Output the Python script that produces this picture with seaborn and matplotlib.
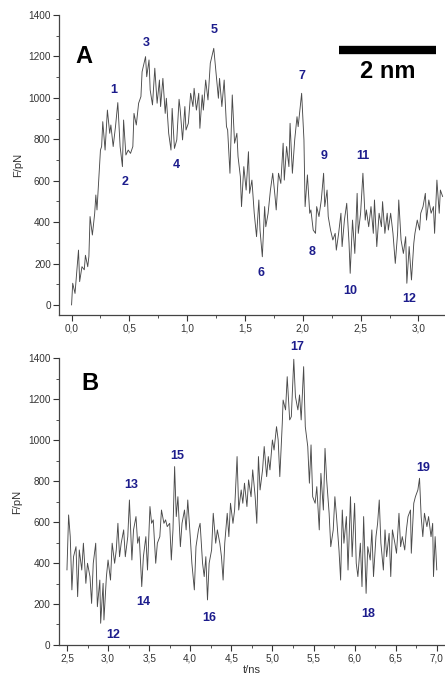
import numpy as np
import pandas as pd
import seaborn as sns
import matplotlib.pyplot as plt
from matplotlib.ticker import MultipleLocator

# Panel A: force trace 0 - 3.2 ns
t_a = [0.00, 0.01, 0.03, 0.06, 0.07, 0.09, 0.11, 0.12, 0.14, 0.15, 0.16, 0.18, 0.20, 0.21, 0.22,
       0.25, 0.26, 0.27, 0.29, 0.31, 0.33, 0.34, 0.36, 0.38, 0.40, 0.42, 0.44, 0.45, 0.47, 0.49,
       0.51, 0.53, 0.54, 0.56, 0.58, 0.60, 0.61, 0.64, 0.65, 0.67, 0.68, 0.70, 0.72, 0.74, 0.76,
       0.77, 0.79, 0.81, 0.82, 0.84, 0.86, 0.87, 0.89, 0.91, 0.93, 0.94, 0.96, 0.98, 0.99, 1.01,
       1.03, 1.05, 1.06, 1.08, 1.10, 1.11, 1.13, 1.14, 1.16, 1.18, 1.20, 1.23, 1.25, 1.27, 1.28,
       1.30, 1.32, 1.34, 1.35, 1.37, 1.39, 1.41, 1.43, 1.44, 1.46, 1.47, 1.49, 1.51, 1.53, 1.54,
       1.56, 1.58, 1.60, 1.62, 1.63, 1.65, 1.67, 1.68, 1.70, 1.72, 1.74, 1.76, 1.77, 1.79, 1.81,
       1.83, 1.84, 1.86, 1.88, 1.89, 1.91, 1.93, 1.95, 1.96, 1.99, 2.01, 2.02, 2.04, 2.06, 2.07,
       2.09, 2.11, 2.12, 2.14, 2.16, 2.18, 2.19, 2.21, 2.22, 2.24, 2.26, 2.28, 2.29, 2.31, 2.33,
       2.34, 2.36, 2.38, 2.40, 2.41, 2.43, 2.45, 2.47, 2.48, 2.50, 2.52, 2.54, 2.55, 2.57, 2.59,
       2.61, 2.62, 2.64, 2.66, 2.68, 2.69, 2.71, 2.73, 2.74, 2.76, 2.78, 2.80, 2.82, 2.83, 2.85,
       2.87, 2.89, 2.90, 2.92, 2.94, 2.96, 2.97, 2.99, 3.01, 3.02, 3.04, 3.06, 3.07, 3.09, 3.11,
       3.13, 3.14, 3.16, 3.18, 3.19, 3.21]
f_a = [0, 105, 56, 265, 113, 185, 170, 240, 185, 235, 427, 338, 442, 531, 459,
       748, 765, 885, 748, 941, 829, 869, 765, 861, 977, 765, 668, 893, 724, 748,
       732, 765, 925, 869, 974, 1006, 1126, 1199, 1102, 1183, 1038, 966, 1143, 974, 1086,
       958, 1094, 925, 998, 829, 748, 949, 756, 797, 993, 941, 797, 958, 845, 877,
       1022, 958, 1046, 941, 1022, 853, 1014, 941, 1086, 990, 1167, 1239, 1118, 998, 1094,
       958, 1086, 861, 845, 636, 1014, 781, 829, 716, 620, 475, 668, 555, 740, 539,
       603, 443, 330, 507, 362, 233, 475, 378, 443, 555, 636, 523, 459, 636, 587,
       781, 603, 765, 668, 877, 636, 797, 909, 861, 1022, 797, 475, 628, 443, 459,
       362, 346, 475, 427, 507, 636, 475, 555, 427, 362, 314, 346, 265, 346, 443,
       282, 410, 491, 298, 153, 410, 249, 539, 346, 443, 636, 410, 459, 378, 475,
       346, 507, 282, 443, 378, 499, 346, 443, 362, 443, 346, 201, 346, 507, 314,
       249, 330, 105, 282, 121, 298, 346, 410, 362, 443, 475, 539, 410, 507, 443,
       475, 346, 603, 443, 555, 523]

# Panel B: force trace 2.5 - 7.0 ns
t_b = [2.50, 2.52, 2.54, 2.56, 2.58, 2.61, 2.63, 2.65, 2.68, 2.70, 2.73, 2.75, 2.78, 2.80, 2.82,
       2.85, 2.87, 2.90, 2.91, 2.94, 2.95, 2.98, 3.00, 3.03, 3.05, 3.08, 3.10, 3.12, 3.14, 3.16,
       3.19, 3.21, 3.24, 3.26, 3.29, 3.31, 3.34, 3.36, 3.38, 3.41, 3.43, 3.46, 3.48, 3.51, 3.53,
       3.55, 3.58, 3.60, 3.63, 3.65, 3.68, 3.70, 3.72, 3.75, 3.77, 3.79, 3.81, 3.83, 3.85, 3.88,
       3.90, 3.93, 3.95, 3.97, 4.00, 4.02, 4.05, 4.07, 4.10, 4.12, 4.15, 4.17, 4.19, 4.21, 4.23,
       4.26, 4.28, 4.31, 4.33, 4.36, 4.38, 4.40, 4.42, 4.45, 4.47, 4.49, 4.52, 4.54, 4.57, 4.59,
       4.62, 4.64, 4.66, 4.69, 4.71, 4.74, 4.76, 4.79, 4.81, 4.83, 4.85, 4.88, 4.90, 4.93, 4.95,
       4.97, 5.00, 5.02, 5.05, 5.07, 5.09, 5.12, 5.13, 5.16, 5.18, 5.21, 5.23, 5.26, 5.28, 5.31,
       5.33, 5.35, 5.38, 5.40, 5.43, 5.45, 5.47, 5.49, 5.52, 5.54, 5.57, 5.59, 5.62, 5.64, 5.66,
       5.69, 5.71, 5.74, 5.76, 5.78, 5.81, 5.83, 5.85, 5.87, 5.90, 5.92, 5.95, 5.97, 6.00, 6.02,
       6.04, 6.07, 6.09, 6.11, 6.14, 6.16, 6.19, 6.21, 6.23, 6.26, 6.28, 6.30, 6.32, 6.35, 6.37,
       6.39, 6.42, 6.44, 6.46, 6.49, 6.51, 6.54, 6.56, 6.58, 6.61, 6.63, 6.65, 6.68, 6.69, 6.72,
       6.74, 6.77, 6.79, 6.81, 6.83, 6.85, 6.88, 6.90, 6.93, 6.95, 6.96, 6.98, 7.00]
f_b = [366, 635, 529, 269, 431, 480, 236, 464, 366, 497, 301, 399, 334, 203, 399,
       497, 187, 317, 106, 301, 122, 334, 415, 317, 497, 399, 464, 594, 431, 497,
       562, 431, 529, 708, 415, 562, 627, 497, 529, 285, 431, 529, 366, 676, 594,
       611, 399, 497, 529, 659, 594, 611, 578, 594, 415, 562, 871, 627, 724, 480,
       594, 659, 562, 708, 529, 399, 269, 480, 562, 594, 399, 334, 431, 220, 399,
       464, 643, 497, 562, 497, 431, 317, 497, 643, 529, 692, 594, 659, 920, 659,
       757, 692, 790, 676, 806, 724, 855, 724, 594, 920, 757, 855, 969, 822, 920,
       855, 1001, 952, 1066, 1001, 822, 1083, 1196, 1148, 1310, 1099, 1115, 1395, 1213, 1148,
       1221, 1099, 1359, 1066, 969, 790, 977, 724, 692, 773, 562, 838, 659, 960, 806,
       643, 480, 562, 724, 627, 464, 317, 659, 497, 627, 366, 724, 431, 692, 399,
       334, 497, 285, 627, 252, 480, 415, 562, 334, 529, 594, 708, 497, 366, 562,
       431, 545, 334, 562, 497, 448, 643, 480, 529, 464, 562, 627, 659, 448, 692,
       724, 757, 814, 627, 529, 643, 578, 627, 529, 594, 334, 529, 366]

# event labels
labels_a = ["1", "2", "3", "4", "5", "6", "7", "8", "9", "10", "11", "12"]
lab_x_a = [0.363, 0.467, 0.649, 0.903, 1.231, 1.635, 1.993, 2.082, 2.18, 2.413, 2.517, 2.921]
lab_y_a = [1038, 595, 1266, 676, 1328, 153, 1106, 254, 721, 69, 719, 29]
labels_b = ["12", "13", "14", "15", "16", "17", "18", "19"]
lab_x_b = [3.068, 3.278, 3.432, 3.838, 4.235, 5.297, 6.168, 6.829]
lab_y_b = [49, 781, 212, 925, 130, 1457, 151, 863]

xticks_a = [0.0, 0.5, 1.0, 1.5, 2.0, 2.5, 3.0]
xticks_b = [2.5, 3.0, 3.5, 4.0, 4.5, 5.0, 5.5, 6.0, 6.5, 7.0]
yticks = [0, 200, 400, 600, 800, 1000, 1200, 1400]

sns.set_style("ticks")
plt.rcParams['font.family'] = ['Liberation Sans', 'DejaVu Sans']

fig = plt.figure(figsize=(4.45, 6.81), dpi=100)
ax1 = fig.add_axes([0.133, 0.5375, 0.867, 0.4405])
ax2 = fig.add_axes([0.132, 0.0529, 0.868, 0.421])

line_col = "#4a4a4a"
lab_col = "#1c1c8c"
tick_col = "#333333"

df_a = pd.DataFrame({"t": t_a, "F": f_a})
df_b = pd.DataFrame({"t": t_b, "F": f_b})
sns.lineplot(data=df_a, x="t", y="F", ax=ax1, color=line_col, lw=0.65,
             estimator=None, sort=False)
sns.lineplot(data=df_b, x="t", y="F", ax=ax2, color=line_col, lw=0.65,
             estimator=None, sort=False)

ax1.set_xlim(-0.107, 3.23)
ax1.set_ylim(-48, 1400)
ax2.set_xlim(2.40, 7.10)
ax2.set_ylim(0, 1400)

for ax, xt in [(ax1, xticks_a), (ax2, xticks_b)]:
    sns.despine(ax=ax)
    ax.set_xticks(xt)
    ax.set_xticklabels([f"{v:.1f}".replace(".", ",") for v in xt])
    ax.set_yticks(yticks)
    ax.set_yticklabels([str(v) for v in yticks])
    ax.xaxis.set_minor_locator(MultipleLocator(0.25))
    ax.yaxis.set_minor_locator(MultipleLocator(100))
    ax.tick_params(which="major", length=4, width=0.8, colors=tick_col,
                   labelsize=7.2, pad=2)
    ax.tick_params(which="minor", length=2, width=0.6, colors=tick_col)
    for s in ["left", "bottom"]:
        ax.spines[s].set_color("#444444")
        ax.spines[s].set_linewidth(0.9)
    ax.set_ylabel("F/pN", fontsize=8, color=tick_col, labelpad=4)
    ax.set_xlabel("")

ax2.set_xlabel("t/ns", fontsize=8, color=tick_col, labelpad=1)

for s, x, y in zip(labels_a, lab_x_a, lab_y_a):
    ax1.text(x, y, s, color=lab_col, fontsize=9, fontweight="bold",
             ha="center", va="center")
for s, x, y in zip(labels_b, lab_x_b, lab_y_b):
    ax2.text(x, y, s, color=lab_col, fontsize=9, fontweight="bold",
             ha="center", va="center", clip_on=False)

ax1.text(0.11, 1202, "A", fontsize=17, fontweight="bold", color="black",
         ha="center", va="center")
ax2.text(2.784, 1275, "B", fontsize=17, fontweight="bold", color="black",
         ha="center", va="center")

# scale bar
ax1.plot([2.315, 3.149], [1231, 1231], color="black", lw=6, solid_capstyle="butt")
ax1.text(2.733, 1126, "2 nm", fontsize=17, fontweight="bold", color="black",
         ha="center", va="center")

fig.savefig("out.png", dpi=100)
